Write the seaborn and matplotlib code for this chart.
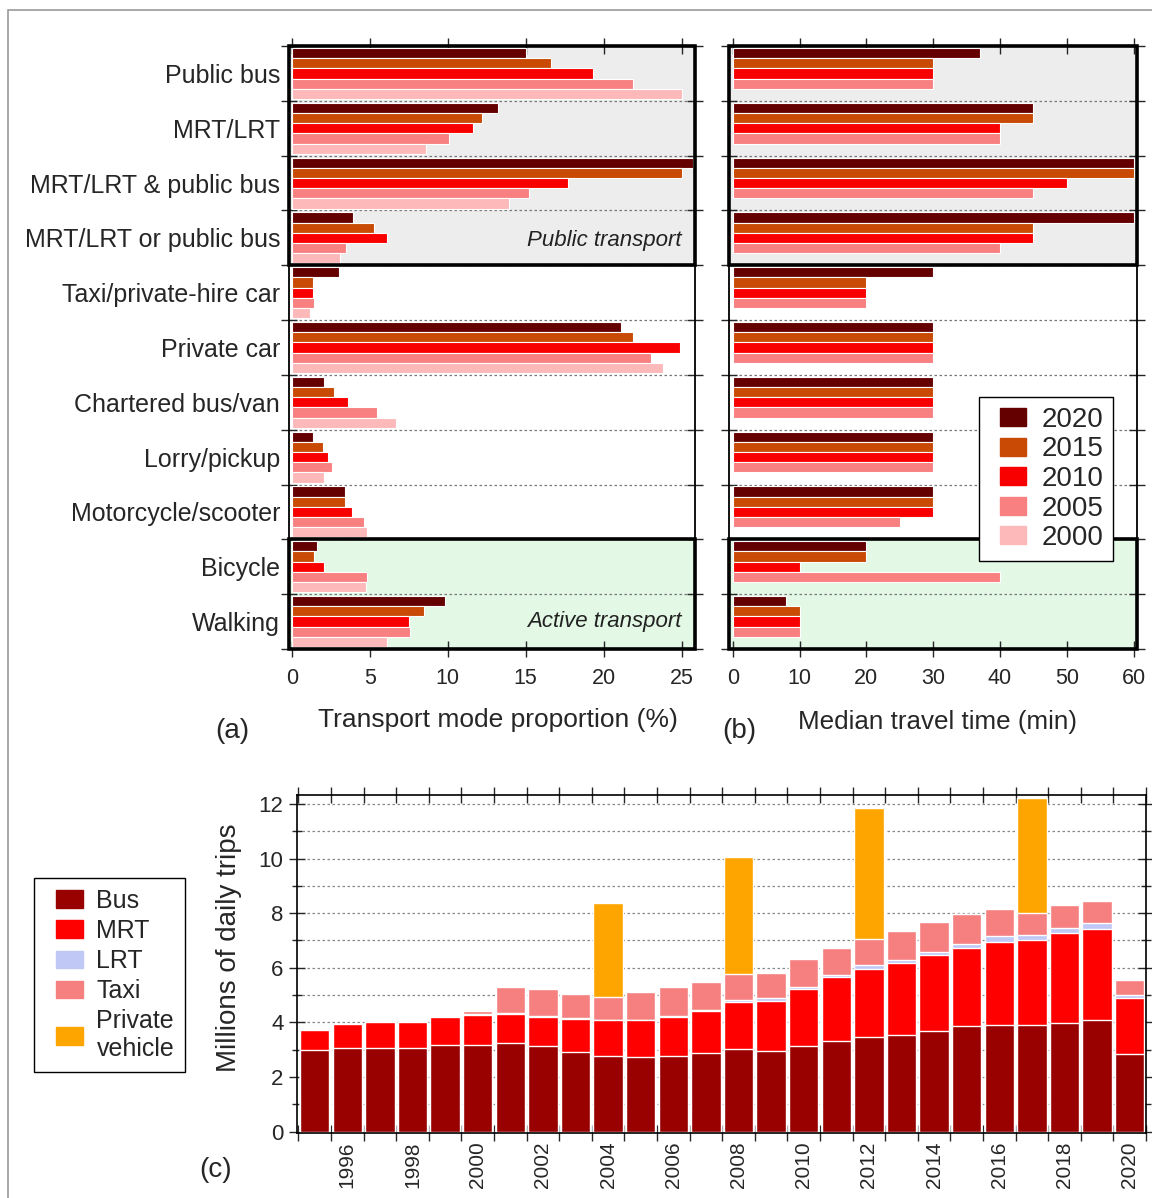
import numpy as np
import pandas as pd
import seaborn as sns
import matplotlib.pyplot as plt
from matplotlib.patches import Rectangle, Patch
from matplotlib.legend_handler import HandlerPatch
from matplotlib.ticker import FixedLocator, MultipleLocator

# --- panel (a)/(b) data ---
modes = ["Public bus", "MRT/LRT", "MRT/LRT & public bus", "MRT/LRT or public bus",
         "Taxi/private-hire car", "Private car", "Chartered bus/van", "Lorry/pickup",
         "Motorcycle/scooter", "Bicycle", "Walking"]
census_years = ["2020", "2015", "2010", "2005", "2000"]

share_2020 = [15.0, 13.2, 25.7, 3.9, 3.0, 21.1, 2.1, 1.35, 3.4, 1.6, 9.85]
share_2015 = [16.6, 12.2, 25.0, 5.3, 1.35, 21.9, 2.7, 2.0, 3.4, 1.45, 8.5]
share_2010 = [19.3, 11.6, 17.7, 6.1, 1.35, 24.9, 3.6, 2.35, 3.85, 2.1, 7.5]
share_2005 = [21.9, 10.1, 15.2, 3.5, 1.45, 23.0, 5.45, 2.6, 4.65, 4.85, 7.6]
share_2000 = [25.0, 8.6, 13.9, 3.1, 1.15, 23.8, 6.7, 2.1, 4.8, 4.75, 6.1]

time_2020 = [37, 45, 60, 60, 30, 30, 30, 30, 30, 20, 8]
time_2015 = [30, 45, 60, 45, 20, 30, 30, 30, 30, 20, 10]
time_2010 = [30, 40, 50, 45, 20, 30, 30, 30, 30, 10, 10]
time_2005 = [30, 40, 45, 40, 20, 30, 30, 30, 25, 40, 10]
time_2000 = [np.nan] * 11  # no travel time data for 2000

# --- panel (c) data (millions of daily trips, per mode) ---
trip_years = list(range(1995, 2021))
bus = [2.99, 3.08, 3.08, 3.08, 3.18, 3.18, 3.24, 3.14, 2.93, 2.78, 2.75, 2.78, 2.89,
       3.02, 2.97, 3.14, 3.32, 3.46, 3.54, 3.70, 3.85, 3.91, 3.91, 3.99, 4.07, 2.85]
mrt = [0.73, 0.85, 0.95, 0.95, 1.01, 1.09, 1.07, 1.07, 1.19, 1.29, 1.32, 1.43, 1.54,
       1.71, 1.83, 2.09, 2.34, 2.49, 2.63, 2.77, 2.87, 3.05, 3.11, 3.30, 3.35, 2.04]
lrt = [0, 0, 0, 0, 0.02, 0.03, 0.03, 0.03, 0.03, 0.03, 0.03, 0.03, 0.03,
       0.09, 0.09, 0.08, 0.09, 0.16, 0.12, 0.12, 0.16, 0.22, 0.19, 0.18, 0.21, 0.12]
taxi = [0, 0, 0, 0, 0, 0.1, 0.97, 0.97, 0.89, 0.82, 1.03, 1.05, 1.03,
        0.95, 0.91, 1.01, 0.97, 0.94, 1.04, 1.10, 1.09, 0.99, 0.79, 0.83, 0.83, 0.55]
private = [0, 0, 0, 0, 0, 0, 0, 0, 0, 3.45, 0, 0, 0,
           4.28, 0, 0, 0, 4.80, 0, 0, 0, 0, 4.21, 0, 0, 0]

year_colors = ["#650000", "#C94A05", "#F90000", "#F98080", "#FDB9B9"]
trip_modes = ["Bus", "MRT", "LRT", "Taxi", "Private\nvehicle"]
trip_colors = ["#990000", "#FF0000", "#C0C8F6", "#F68080", "#FFA500"]

sns.set_style("ticks")
plt.rcParams["font.family"] = ["Liberation Sans", "DejaVu Sans"]


def shifted_square(shift_pt, size_pt):
    # legend swatch pushed right inside its handle box (units are points)
    def make(legend, orig_handle, xdescent, ydescent, width, height, fontsize):
        return Rectangle((-xdescent + shift_pt, -ydescent), size_pt, height)
    return HandlerPatch(patch_func=make)


fig = plt.figure(figsize=(11.52, 11.98), dpi=100)
ax_a = fig.add_axes([0.2505, 0.4583, 0.3528, 0.5033])
ax_b = fig.add_axes([0.6332, 0.4583, 0.3537, 0.5033])
ax_c = fig.add_axes([0.2576, 0.0543, 0.7372, 0.2821])

share_df = pd.DataFrame({
    "mode": modes * 5,
    "year": np.repeat(census_years, len(modes)),
    "value": share_2020 + share_2015 + share_2010 + share_2005 + share_2000,
})
time_df = pd.DataFrame({
    "mode": modes * 5,
    "year": np.repeat(census_years, len(modes)),
    "value": time_2020 + time_2015 + time_2010 + time_2005 + time_2000,
})

for ax, df, xlim, xstep in [(ax_a, share_df, (-0.2, 25.85), 5), (ax_b, time_df, (-0.5, 60.5), 10)]:
    ax.axhspan(-0.5, 3.5, color="#EDEDED", zorder=0)
    ax.axhspan(8.5, 10.5, color="#E3F8E5", zorder=0)
    sns.barplot(data=df, y="mode", x="value", hue="year", hue_order=census_years,
                order=modes, palette=year_colors, orient="h", width=0.93,
                saturation=1, errorbar=None, edgecolor="white", linewidth=0.8,
                legend=False, ax=ax)
    ax.set_xlim(*xlim)
    ax.set_ylim(10.5, -0.5)
    ax.set_xlabel("")
    ax.set_ylabel("")
    ax.xaxis.set_major_locator(MultipleLocator(xstep))
    ax.yaxis.set_minor_locator(FixedLocator(np.arange(-0.5, 11, 1)))
    ax.tick_params(axis="x", which="major", direction="inout", length=12, width=1,
                   top=True, bottom=True, labelsize=15.5, pad=8)
    ax.tick_params(axis="y", which="major", length=0, labelsize=18, pad=6)
    ax.tick_params(axis="y", which="minor", direction="inout", length=12, width=1,
                   left=True, right=True)
    ax.grid(axis="y", which="minor", linestyle=(0, (2, 2)), color="#777777", lw=0.9)
    ax.set_axisbelow(True)
    for s in ax.spines.values():
        s.set_linewidth(1.3)
        s.set_color("black")
    for y0, h in [(-0.5, 4), (8.5, 2)]:
        ax.add_patch(Rectangle((0, y0), 1, h, transform=ax.get_yaxis_transform(),
                               fill=False, ec="black", lw=2.6, zorder=6, clip_on=False))

ax_b.tick_params(axis="y", labelleft=False)

ax_a.text(25.0, 3.05, "Public transport", ha="right", va="center", fontsize=16, style="italic", color="#222222")
ax_a.text(25.0, 10.0, "Active transport", ha="right", va="center", fontsize=16, style="italic", color="#222222")

year_handles = [Patch(color=c) for c in year_colors]
leg_b = ax_b.legend(handles=year_handles, labels=census_years,
                    handler_map={h: shifted_square(8, 18.5) for h in year_handles},
                    loc="upper left", bbox_to_anchor=(979 / 1152, 1 - 397 / 1198),
                    bbox_transform=fig.transFigure, fontsize=20, handlelength=1.33,
                    handleheight=0.62, labelspacing=0.13, handletextpad=0.58,
                    borderpad=0.35, borderaxespad=0, frameon=True, fancybox=False,
                    edgecolor="black", framealpha=1)
leg_b.set_zorder(10)

fig.text(0.2014, 0.3898, "(a)", ha="center", va="center", fontsize=20)
fig.text(0.4323, 0.399, "Transport mode proportion (%)", ha="center", va="center", fontsize=19)
fig.text(0.642, 0.3898, "(b)", ha="center", va="center", fontsize=20)
fig.text(0.814, 0.397, "Median travel time (min)", ha="center", va="center", fontsize=18.7)

# --- panel (c): stacked bars, drawn tallest first ---
layers = np.cumsum(np.array([bus, mrt, lrt, taxi, private]), axis=0)
for k in range(len(trip_modes) - 1, -1, -1):
    sns.barplot(x=trip_years, y=layers[k], native_scale=True, color=trip_colors[k],
                saturation=1, width=0.9, errorbar=None, edgecolor="white",
                linewidth=1.0, ax=ax_c)

ax_c.set_xlim(1994.45, 2020.5)
ax_c.set_ylim(-0.05, 12.33)
ax_c.xaxis.set_major_locator(FixedLocator(range(1996, 2021, 2)))
ax_c.xaxis.set_minor_locator(FixedLocator(np.arange(1994.5, 2021, 1)))
ax_c.set_xticklabels([str(y) for y in range(1996, 2021, 2)], rotation=90)
ax_c.tick_params(axis="x", which="major", length=0, labelsize=15, pad=6)
ax_c.tick_params(axis="x", which="minor", direction="inout", length=12, width=1,
                 top=True, bottom=True)
ax_c.yaxis.set_major_locator(MultipleLocator(2))
ax_c.yaxis.set_minor_locator(MultipleLocator(1))
ax_c.tick_params(axis="y", which="major", direction="inout", length=12, width=1,
                 left=True, right=True, labelsize=16)
ax_c.tick_params(axis="y", which="minor", direction="inout", length=7, width=1,
                 left=True, right=True)
ax_c.grid(axis="y", which="both", linestyle=(0, (2, 2)), color="#888888", lw=0.9)
ax_c.set_axisbelow(True)
for s in ax_c.spines.values():
    s.set_linewidth(1.2)
    s.set_color("black")
ax_c.set_xlabel("")
ax_c.set_ylabel("")

trip_handles = [Patch(color=c) for c in trip_colors]
fig.legend(handles=trip_handles, labels=trip_modes,
           handler_map={h: shifted_square(8, 19.5) for h in trip_handles},
           loc="upper left", bbox_to_anchor=(34 / 1152, 1 - 878 / 1198),
           fontsize=18, handlelength=1.52, handleheight=0.7, labelspacing=0.25,
           handletextpad=0.56, borderpad=0.42, borderaxespad=0, frameon=True,
           fancybox=False, edgecolor="black", framealpha=1)

fig.text(0.199, 0.209, "Millions of daily trips", rotation=90, ha="center", va="center", fontsize=20)
fig.text(0.1875, 0.0234, "(c)", ha="center", va="center", fontsize=20)

# thin frame around the whole picture
fig.add_artist(Rectangle((8 / 1152, -0.01), 1.0, 1 - 10 / 1198 + 0.01,
                         transform=fig.transFigure, fill=False, ec="#999999", lw=1.2))

fig.savefig("out.png", dpi=100)
